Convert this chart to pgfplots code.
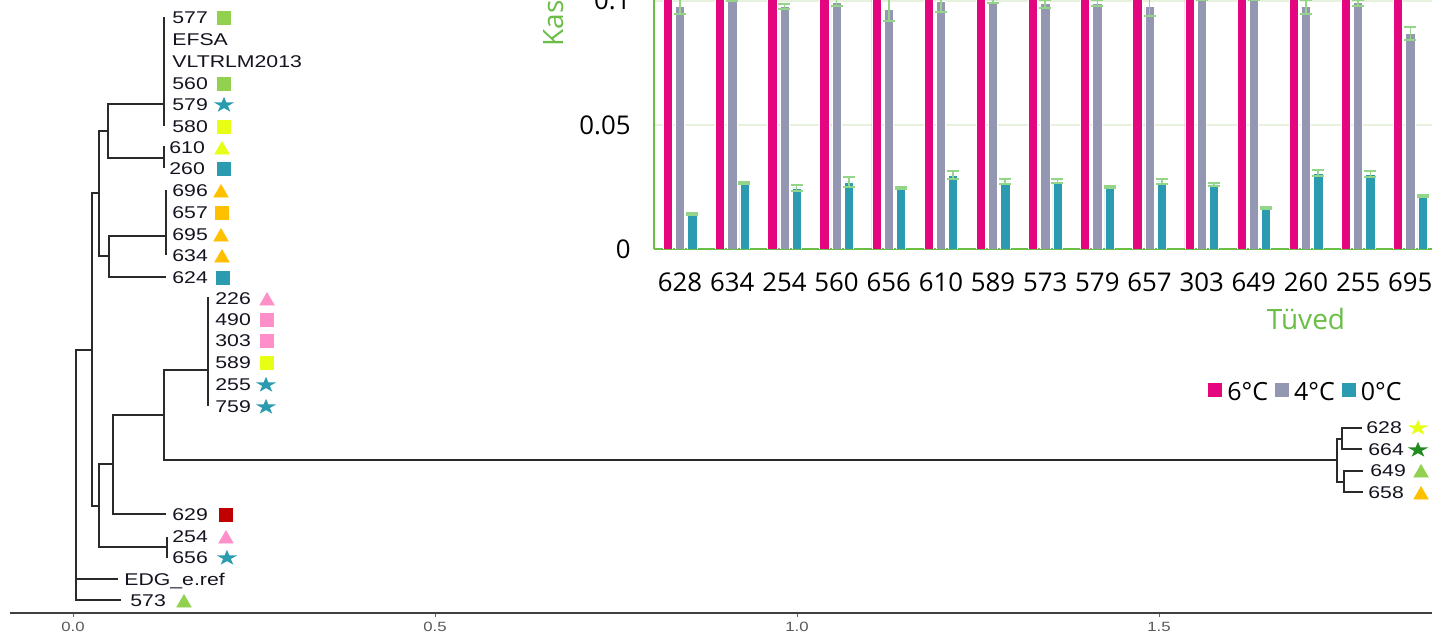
\documentclass[border=0pt]{standalone}
\usepackage{fontspec}
\setmainfont{Open Sans}
\newfontfamily\treefont[FakeStretch=1.25]{Liberation Sans}
\newfontfamily\barfont{Open Sans}
\usepackage{pgfplots}
\pgfplotsset{compat=1.18}
\usepackage{pgfplotstable}

\definecolor{treeline}{HTML}{2A2A2A}
\definecolor{labcol}{HTML}{141420}
\definecolor{mgreen}{HTML}{92D050}
\definecolor{myellow}{HTML}{E6FF14}
\definecolor{mteal}{HTML}{2B9BB0}
\definecolor{morange}{HTML}{FFC000}
\definecolor{mpink}{HTML}{FF8FC8}
\definecolor{mred}{HTML}{C00000}
\definecolor{mdgreen}{HTML}{228B22}
\definecolor{bpink}{HTML}{E4067E}
\definecolor{bgray}{HTML}{9497B1}
\definecolor{bteal}{HTML}{2A9BB0}
\definecolor{errgreen}{HTML}{95D58A}
\definecolor{axgreen}{HTML}{6ABD45}
\definecolor{gridgreen}{HTML}{E6F2DE}

\pgfdeclareplotmark{fstar}{%
  \pgfpathmoveto{\pgfpointpolar{90}{\pgfplotmarksize}}%
  \pgfpathlineto{\pgfpointpolar{126}{0.382\pgfplotmarksize}}%
  \pgfpathlineto{\pgfpointpolar{162}{\pgfplotmarksize}}%
  \pgfpathlineto{\pgfpointpolar{198}{0.382\pgfplotmarksize}}%
  \pgfpathlineto{\pgfpointpolar{234}{\pgfplotmarksize}}%
  \pgfpathlineto{\pgfpointpolar{270}{0.382\pgfplotmarksize}}%
  \pgfpathlineto{\pgfpointpolar{306}{\pgfplotmarksize}}%
  \pgfpathlineto{\pgfpointpolar{342}{0.382\pgfplotmarksize}}%
  \pgfpathlineto{\pgfpointpolar{18}{\pgfplotmarksize}}%
  \pgfpathlineto{\pgfpointpolar{54}{0.382\pgfplotmarksize}}%
  \pgfpathclose
  \pgfusepathqfill
}

\pgfplotstableread{
x  p     g       ge      t       te
0  0.13  0.0976  0.0030  0.0141  0.0003
1  0.13  0.1003  0.0005  0.0266  0.0004
2  0.13  0.0976  0.0010  0.0246  0.0012
3  0.13  0.0995  0.0015  0.0270  0.0020
4  0.13  0.0964  0.0045  0.0245  0.0003
5  0.13  0.0996  0.0040  0.0298  0.0018
6  0.13  0.1000  0.0010  0.0270  0.0010
7  0.13  0.0988  0.0015  0.0274  0.0007
8  0.13  0.0990  0.0012  0.0250  0.0003
9  0.13  0.0978  0.0040  0.0270  0.0010
10 0.13  0.1015  0.0010  0.0258  0.0006
11 0.13  0.1015  0.0010  0.0165  0.0005
12 0.13  0.0976  0.0028  0.0305  0.0012
13 0.13  0.0993  0.0012  0.0302  0.0012
14 0.13  0.0868  0.0026  0.0212  0.0004
}\bardata

\newcommand{\tl}[3]{\node[anchor=base west, inner sep=0pt, font=\treefont\fontsize{8.5pt}{10pt}\selectfont, text=labcol] at (axis cs:#1,#2) {#3};}

\begin{document}
\begin{tikzpicture}
\path[use as bounding box] (0pt,0pt) rectangle (716pt,317.5pt);
\clip (0pt,0pt) rectangle (716pt,317.5pt);

% ---------------- dendrogram ----------------
\begin{axis}[
  at={(5pt,11pt)}, anchor=south west, scale only axis,
  width=715pt, height=306.5pt,
  xmin=-0.08702, xmax=1.88812, ymin=-613, ymax=0,
  clip=false,
  axis y line=none, axis x line*=bottom,
  axis line style={-, line width=1pt, color=black!75},
  xtick={0,0.5,1,1.5}, xticklabels={0.0,0.5,1.0,1.5},
  ytick=\empty,
  xtick align=outside, major tick length=2.2pt,
  tick style={black!60, line width=0.5pt},
  xticklabel style={font=\treefont\fontsize{6.7pt}{8pt}\selectfont, text=black!65, inner sep=0pt, yshift=-2.4pt},
]
\addplot[treeline, line width=0.6pt, unbounded coords=jump] coordinates {
 (0.1257,-17) (0.1257,-126) (nan,nan)
 (0.1257,-104) (0.0483,-104) (0.0483,-158) (0.1257,-158) (nan,nan)
 (0.1257,-146) (0.1257,-168) (nan,nan)
 (0.0483,-131) (0.0359,-131) (0.0359,-256) (0.0497,-256) (nan,nan)
 (0.1285,-190) (0.1285,-255) (nan,nan)
 (0.1285,-236) (0.0497,-236) (0.0497,-277) (0.1285,-277) (nan,nan)
 (0.0359,-193) (0.0262,-193) (0.0262,-506) (0.0359,-506) (nan,nan)
 (0.0262,-350) (0.0041,-350) (0.0041,-600) (0.0663,-600) (nan,nan)
 (0.0041,-579) (0.0622,-579) (nan,nan)
 (0.0552,-464) (0.0359,-464) (0.0359,-547) (0.1298,-547) (nan,nan)
 (0.1298,-537) (0.1298,-558) (nan,nan)
 (0.1257,-415) (0.0552,-415) (0.0552,-514) (0.1285,-514) (nan,nan)
 (0.1865,-370) (0.1257,-370) (0.1257,-460) (1.7459,-460) (nan,nan)
 (0.1865,-297) (0.1865,-406) (nan,nan)
 (1.7528,-439) (1.7459,-439) (1.7459,-482) (1.7555,-482) (nan,nan)
 (1.7804,-428) (1.7528,-428) (1.7528,-449) (1.7804,-449) (nan,nan)
 (1.7818,-471) (1.7555,-471) (1.7555,-492) (1.7818,-492)
};
% markers: squares
\addplot[only marks, mark=square*, mark size=3.3pt, color=mgreen] coordinates {(0.2086,-18) (0.2086,-84)};
\addplot[only marks, mark=square*, mark size=3.3pt, color=myellow] coordinates {(0.2086,-127) (0.2680,-363)};
\addplot[only marks, mark=square*, mark size=3.3pt, color=mteal] coordinates {(0.2086,-169) (0.2072,-278)};
\addplot[only marks, mark=square*, mark size=3.3pt, color=morange] coordinates {(0.2058,-213)};
\addplot[only marks, mark=square*, mark size=3.3pt, color=mpink] coordinates {(0.2680,-320) (0.2680,-341)};
\addplot[only marks, mark=square*, mark size=3.3pt, color=mred] coordinates {(0.2113,-515)};
% triangles
\addplot[only marks, mark=triangle*, mark size=4.1pt, color=myellow] coordinates {(0.2058,-150)};
\addplot[only marks, mark=triangle*, mark size=4.1pt, color=morange] coordinates {(0.2044,-193) (0.2044,-237) (0.2058,-258) (1.8619,-495)};
\addplot[only marks, mark=triangle*, mark size=4.1pt, color=mpink] coordinates {(0.2680,-301) (0.2113,-539)};
\addplot[only marks, mark=triangle*, mark size=4.1pt, color=mgreen] coordinates {(1.8619,-473) (0.1533,-603)};
% stars
\addplot[only marks, mark=fstar, mark size=4.1pt, mark options={xscale=1.3}, color=mteal] coordinates {(0.2086,-105) (0.2666,-385) (0.2666,-407) (0.2127,-558)};
\addplot[only marks, mark=fstar, mark size=4.1pt, mark options={xscale=1.3}, color=myellow] coordinates {(1.8577,-428)};
\addplot[only marks, mark=fstar, mark size=4.1pt, mark options={xscale=1.3}, color=mdgreen] coordinates {(1.8577,-450)};
% labels
\tl{0.1367}{-24}{577}
\tl{0.1367}{-46}{EFSA}
\tl{0.1367}{-68}{VLTRLM2013}
\tl{0.1367}{-90}{560}
\tl{0.1367}{-111}{579}
\tl{0.1367}{-133}{580}
\tl{0.1326}{-154}{610}
\tl{0.1326}{-175}{260}
\tl{0.1367}{-197}{696}
\tl{0.1367}{-219}{657}
\tl{0.1367}{-241}{695}
\tl{0.1367}{-262}{634}
\tl{0.1367}{-284}{624}
\tl{0.1961}{-305}{226}
\tl{0.1961}{-326}{490}
\tl{0.1961}{-347}{303}
\tl{0.1961}{-369}{589}
\tl{0.1961}{-391}{255}
\tl{0.1961}{-413}{759}
\tl{1.7859}{-434}{628}
\tl{1.7887}{-456}{664}
\tl{1.7914}{-477}{649}
\tl{1.7887}{-499}{658}
\tl{0.1367}{-521}{629}
\tl{0.1367}{-543}{254}
\tl{0.1367}{-564}{656}
\tl{0.0704}{-586}{EDG\_e.ref}
\tl{0.0787}{-607}{573}
\end{axis}

% ---------------- bar chart inset ----------------
\begin{axis}[
  at={(327pt,193pt)}, anchor=south west, scale only axis,
  width=652pt, height=136.5pt,
  xmin=-0.5, xmax=24.5, ymin=0, ymax=0.11,
  ybar=1.5pt, bar width=4.6pt,
  axis x line*=bottom, axis y line*=left,
  axis line style={-, draw=axgreen, line width=1pt},
  xtick={0,1,2,3,4,5,6,7,8,9,10,11,12,13,14},
  xticklabels={628,634,254,560,656,610,589,573,579,657,303,649,260,255,695},
  ytick={0,0.05,0.1}, yticklabels={0,0.05,0.1},
  major tick length=0pt,
  ymajorgrids, grid style={gridgreen, line width=0.8pt},
  tick label style={font=\barfont\fontsize{12.9pt}{14pt}\selectfont, text=black, inner sep=0pt},
  xticklabel style={yshift=-11.5pt},
  yticklabel style={xshift=-11.5pt},
  legend columns=-1,
  legend image code/.code={\fill[#1, draw=none] (0pt,-2pt) rectangle (7pt,5pt);},
  legend style={at={(axis description cs:0.4248,-0.5275)}, anchor=west, draw=none, fill=none,
    inner sep=0pt, font=\barfont\fontsize{12.5pt}{14pt}\selectfont,
    nodes={inner sep=0pt},
    /tikz/every odd column/.append style={column sep=2.5pt},
    /tikz/every even column/.append style={column sep=3.5pt}},
]
\addplot[fill=bpink, draw=white, line width=0.3pt] table[x=x, y=p] {\bardata};
\addplot[fill=bgray, draw=white, line width=0.3pt,
  error bars/.cd, y dir=both, y explicit,
  error bar style={errgreen, line width=0.8pt},
  error mark options={rotate=90, errgreen, mark size=3pt, line width=1pt}]
  table[x=x, y=g, y error=ge] {\bardata};
\addplot[fill=bteal, draw=white, line width=0.3pt,
  error bars/.cd, y dir=both, y explicit,
  error bar style={errgreen, line width=0.8pt},
  error mark options={rotate=90, errgreen, mark size=3pt, line width=1pt}]
  table[x=x, y=t, y error=te] {\bardata};
\legend{6°C,4°C,0°C}
\end{axis}

\node[rotate=90, anchor=base west, inner sep=0pt, text=axgreen, font=\barfont\fontsize{14pt}{16pt}\selectfont] at (281.5pt,294pt) {Kasvukiirus};
\node[anchor=base, inner sep=0pt, text=axgreen, font=\barfont\fontsize{14pt}{16pt}\selectfont] at (653pt,152.5pt) {Tüved};
\end{tikzpicture}
\end{document}
